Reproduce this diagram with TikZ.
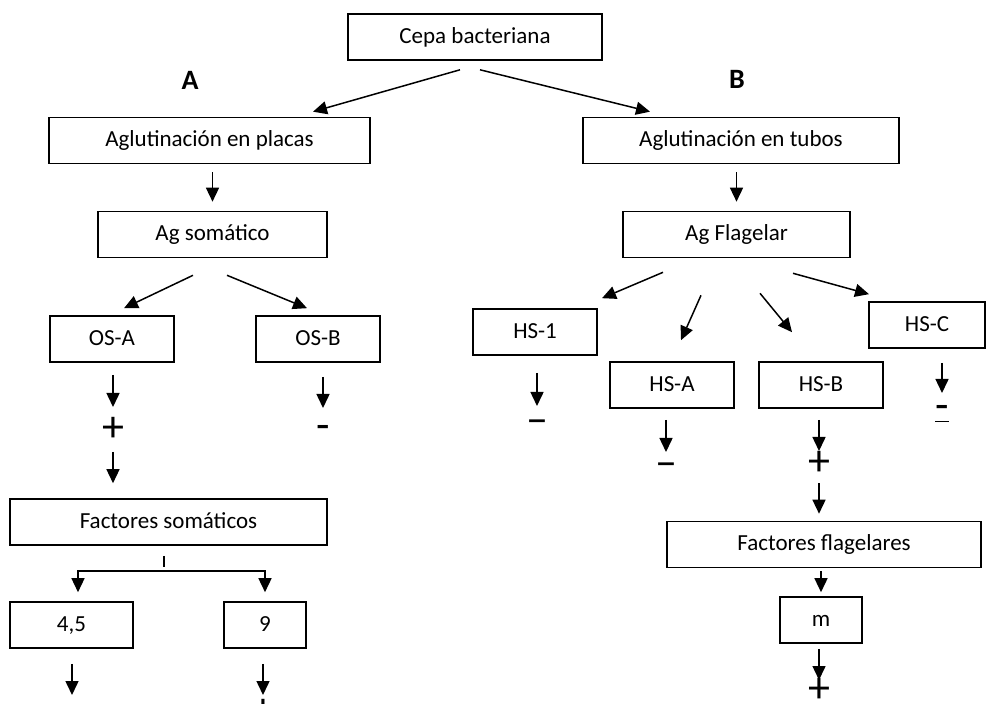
\documentclass[tikz,border=0pt]{standalone}
\usepackage{fontspec}
\setmainfont{Carlito}
\usetikzlibrary{arrows.meta}

\begin{document}
\fontsize{11.5}{14}\selectfont
\begin{tikzpicture}[
        x = 0.5pt, y = -0.5pt,
        box/.style  = {draw, line width=0.8pt, minimum height=23pt, inner sep=0pt,
                       text height=1.45ex, text depth=0.35ex},
        sign/.style = {inner sep=0pt, font=\fontsize{22}{22}\selectfont},
        arr/.style  = {-{Triangle[length=7pt,width=6.5pt]}, line width=0.75pt},
        lbl/.style  = {font=\fontsize{14}{16}\selectfont\bfseries}
    ]
        \useasboundingbox (0,0) rectangle (988,704);

        \node[box, minimum width=127pt]   (cepa)   at (475,37)      {Cepa bacteriana};
        \node[lbl]                        (labA)   at (190,80)      {A};
        \node[lbl]                        (labB)   at (737,79)      {B};
        \node[box, minimum width=160.5pt] (placas) at (209.5,140.5) {Aglutinación en placas};
        \node[box, minimum width=158pt]   (tubos)  at (741,140.5)   {Aglutinación en tubos};
        \node[box, minimum width=114.5pt] (agsom)  at (212.5,234.5) {Ag somático};
        \node[box, minimum width=113.5pt] (agflag) at (736.5,234.5) {Ag Flagelar};

        % rama A
        \node[box, minimum width=62pt]    (osA)   at (112,339)   {OS-A};
        \node[box, minimum width=62pt]    (osB)   at (318,339)   {OS-B};
        \node[sign]                       (plusA) at (113,429)   {+};
        \node[sign]                       (minB)  at (323,432)   {-};
        \node[box, minimum width=158.5pt] (factS) at (168.5,522) {Factores somáticos};
        \node[box, minimum width=61.5pt]  (f45)   at (71.5,625)  {4,5};
        \node[box, minimum width=41pt]    (f9)    at (265,625)   {9};
        \node[sign]                       (plus9) at (263,711)   {+};
        \coordinate (fork)  at (164,571);
        \coordinate (end45) at (72,695);

        % rama B
        \node[box, minimum width=62pt]  (hs1)   at (535,332)   {HS-1};
        \node[box, minimum width=62pt]  (hsA)   at (672,385)   {HS-A};
        \node[box, minimum width=62pt]  (hsB)   at (821,385)   {HS-B};
        \node[box, minimum width=58pt]  (hsC)   at (927,325)   {HS-C};
        \node[sign]                     (min1)  at (537,427)   {–};
        \node[sign]                     (minA)  at (666,470)   {–};
        \node[sign]                     (plusB) at (819,463)   {+};
        \node[sign]                     (minC)  at (942,414)   {\underline{-}};
        \node[box, minimum width=157pt] (factF) at (824,544.5) {Factores flagelares};
        \node[box, minimum width=41pt]  (m)     at (821,620)   {m};
        \node[sign]                     (plusM) at (819,690)   {+};

        \draw[arr] ([xshift=-7.5pt,yshift=-4.5pt]cepa.south) -- ([xshift=51.75pt,yshift=2.5pt]placas.north);
        \draw[arr] ([xshift=2.5pt,yshift=-4.5pt]cepa.south)  -- ([xshift=-45.5pt,yshift=2.5pt]tubos.north);
        \draw[arr, shorten <=4pt, shorten >=4.5pt] (agsom.north |- placas.south) -- (agsom.north);
        \draw[arr, shorten <=4pt, shorten >=4.5pt] (agflag.north |- tubos.south) -- (agflag.north);

        \draw[arr] ([xshift=-9.75pt,yshift=-8.5pt]agsom.south) -- ([xshift=6pt,yshift=3.5pt]osA.north);
        \draw[arr] ([xshift=7.25pt,yshift=-8.5pt]agsom.south)  -- ([xshift=-5.5pt,yshift=3.5pt]osB.north);
        \draw[arr, shorten <=6pt, shorten >=11pt]     (plusA.center |- osA.south) -- (plusA.center);
        \draw[arr, shorten <=11.5pt, shorten >=7.5pt] (plusA.center) -- (plusA.center |- factS.north);
        \draw[arr, shorten <=7pt, shorten >=12pt]     (minB.center |- osB.south) -- (minB.center);
        \draw[line width=0.75pt, shorten <=5pt, shorten >=2pt] (fork |- factS.south) -- (fork);
        \draw[arr, shorten >=4.5pt] (fork) -| ([xshift=3.25pt]f45.north);
        \draw[arr, shorten >=4.5pt] (fork) -| (f9.north);
        \draw[arr, shorten <=7.5pt] (end45 |- f45.south) -- (end45);
        \draw[arr, shorten <=7.5pt, shorten >=8pt] (plus9.center |- f9.south) -- (plus9.center);

        \draw[arr] ([xshift=-36.75pt,yshift=-7pt]agflag.south)   -- ([xshift=33.5pt,yshift=5pt]hs1.north);
        \draw[arr] ([xshift=-17.75pt,yshift=-18.5pt]agflag.south) -- ([xshift=4.5pt,yshift=10.5pt]hsA.north);
        \draw[arr] ([xshift=11.75pt,yshift=-17.5pt]agflag.south)  -- ([xshift=-14.5pt,yshift=14.5pt]hsB.north);
        \draw[arr] ([xshift=28.25pt,yshift=-7.5pt]agflag.south)   -- ([xshift=-29pt,yshift=3.5pt]hsC.north);
        \draw[arr, shorten <=8.5pt, shorten >=10.5pt] (min1.center |- hs1.south) -- (min1.center);
        \draw[arr, shorten <=5.5pt, shorten >=9pt]    (minA.center |- hsA.south) -- (minA.center);
        \draw[arr, shorten <=5.5pt, shorten >=6pt]    (plusB.center |- hsB.south) -- (plusB.center);
        \draw[arr, shorten <=7pt, shorten >=10.5pt]   (minC.center |- hsC.south) -- (minC.center);
        \draw[arr, shorten <=10pt, shorten >=3.5pt]   (plusB.center) -- (plusB.center |- factF.north);
        \draw[arr, shorten <=1.5pt, shorten >=2pt]    (m.north |- factF.south) -- (m.north);
        \draw[arr, shorten <=2.5pt, shorten >=5pt]    (plusM.center |- m.south) -- (plusM.center);
    \end{tikzpicture}
\end{document}
